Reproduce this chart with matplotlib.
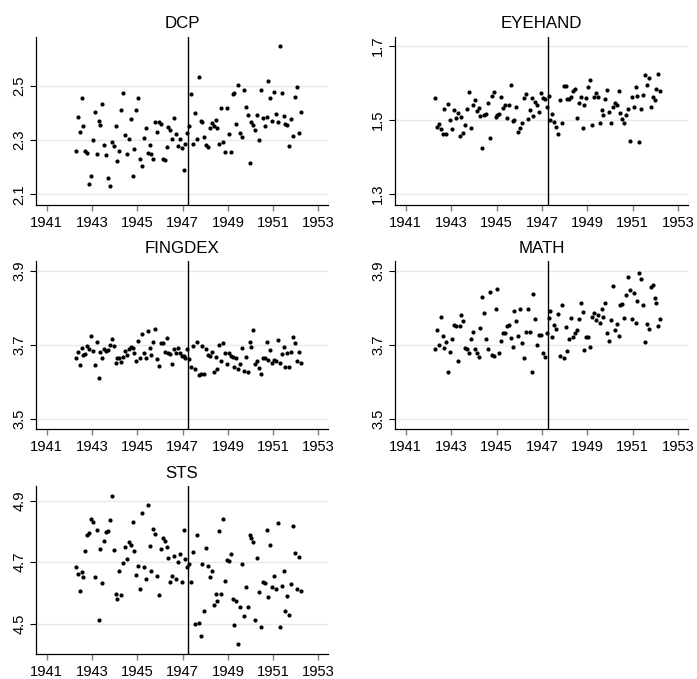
import matplotlib
matplotlib.use("Agg")
import matplotlib.pyplot as plt
import numpy as np
import pandas as pd

plt.rcParams["font.family"] = ["Liberation Sans", "DejaVu Sans"]

# Monthly observations, April 1942 - March 1952
months = pd.period_range("1942-04", "1952-03", freq="M")
cutoff_year = 1947.25

dcp = [2.258, 2.383, 2.329, 2.453, 2.353, 2.258, 2.253, 2.137, 2.169, 2.301,
       2.404, 2.250, 2.370, 2.355, 2.434, 2.282, 2.244, 2.160, 2.132, 2.293,
       2.277, 2.353, 2.221, 2.258, 2.412, 2.474, 2.317, 2.250, 2.304, 2.377,
       2.169, 2.268, 2.412, 2.455, 2.231, 2.206, 2.309, 2.344, 2.252, 2.282,
       2.248, 2.231, 2.367, 2.329, 2.367, 2.358, 2.229, 2.228, 2.274, 2.349,
       2.336, 2.305, 2.380, 2.323, 2.277, 2.305, 2.271, 2.190, 2.287, 2.325,
       2.350, 2.471, 2.284, 2.398, 2.302, 2.533, 2.369, 2.367, 2.311, 2.283,
       2.275, 2.345, 2.361, 2.352, 2.375, 2.345, 2.287, 2.419, 2.291, 2.255,
       2.418, 2.323, 2.255, 2.471, 2.474, 2.360, 2.501, 2.326, 2.312, 2.484,
       2.421, 2.392, 2.215, 2.365, 2.356, 2.337, 2.393, 2.301, 2.485, 2.382,
       2.352, 2.386, 2.518, 2.455, 2.371, 2.478, 2.397, 2.367, 2.646, 2.472,
       2.388, 2.360, 2.354, 2.277, 2.379, 2.316, 2.460, 2.494, 2.327, 2.402]

eyehand = [1.560, 1.481, 1.490, 1.476, 1.462, 1.531, 1.462, 1.544, 1.499, 1.476,
           1.526, 1.507, 1.519, 1.458, 1.509, 1.464, 1.487, 1.531, 1.577, 1.480,
           1.540, 1.553, 1.524, 1.534, 1.512, 1.426, 1.514, 1.517, 1.547, 1.451,
           1.565, 1.577, 1.509, 1.513, 1.517, 1.561, 1.533, 1.541, 1.505, 1.540,
           1.596, 1.498, 1.500, 1.536, 1.468, 1.480, 1.491, 1.560, 1.571, 1.504,
           1.527, 1.560, 1.511, 1.549, 1.541, 1.522, 1.574, 1.560, 1.556, 1.535,
           1.565, 1.500, 1.516, 1.496, 1.481, 1.462, 1.554, 1.491, 1.593, 1.592,
           1.558, 1.558, 1.562, 1.578, 1.585, 1.507, 1.546, 1.562, 1.479, 1.542,
           1.560, 1.589, 1.607, 1.486, 1.562, 1.573, 1.562, 1.491, 1.526, 1.515,
           1.558, 1.582, 1.521, 1.491, 1.535, 1.547, 1.542, 1.579, 1.520, 1.502,
           1.491, 1.515, 1.531, 1.444, 1.562, 1.535, 1.588, 1.565, 1.441, 1.531,
           1.569, 1.623, 1.594, 1.613, 1.536, 1.562, 1.553, 1.585, 1.624, 1.578]

fingdex = [3.666, 3.682, 3.647, 3.692, 3.673, 3.676, 3.698, 3.689, 3.724, 3.685,
           3.647, 3.708, 3.612, 3.682, 3.665, 3.689, 3.683, 3.687, 3.701, 3.717,
           3.697, 3.651, 3.665, 3.664, 3.654, 3.669, 3.685, 3.674, 3.690, 3.695,
           3.691, 3.680, 3.658, 3.710, 3.666, 3.730, 3.678, 3.664, 3.738, 3.693,
           3.674, 3.709, 3.743, 3.662, 3.645, 3.705, 3.705, 3.682, 3.720, 3.678,
           3.676, 3.650, 3.689, 3.678, 3.692, 3.678, 3.672, 3.671, 3.666, 3.689,
           3.663, 3.642, 3.698, 3.637, 3.709, 3.620, 3.621, 3.697, 3.623, 3.689,
           3.673, 3.671, 3.682, 3.628, 3.668, 3.636, 3.700, 3.657, 3.707, 3.680,
           3.649, 3.678, 3.671, 3.669, 3.642, 3.664, 3.637, 3.648, 3.691, 3.631,
           3.669, 3.627, 3.709, 3.696, 3.742, 3.648, 3.658, 3.638, 3.623, 3.664,
           3.664, 3.708, 3.660, 3.687, 3.653, 3.660, 3.656, 3.715, 3.651, 3.675,
           3.696, 3.640, 3.680, 3.640, 3.682, 3.721, 3.707, 3.658, 3.682, 3.653]

math_scores = [3.690, 3.740, 3.700, 3.777, 3.726, 3.691, 3.708, 3.627, 3.682, 3.716,
               3.754, 3.752, 3.656, 3.752, 3.780, 3.765, 3.691, 3.689, 3.678, 3.716,
               3.735, 3.689, 3.680, 3.669, 3.745, 3.831, 3.786, 3.716, 3.689, 3.843,
               3.674, 3.672, 3.798, 3.852, 3.680, 3.711, 3.732, 3.734, 3.752, 3.755,
               3.718, 3.696, 3.793, 3.766, 3.725, 3.798, 3.705, 3.666, 3.736, 3.798,
               3.736, 3.628, 3.838, 3.771, 3.700, 3.727, 3.727, 3.679, 3.669, 3.734,
               3.773, 3.791, 3.723, 3.754, 3.744, 3.785, 3.671, 3.807, 3.666, 3.749,
               3.684, 3.717, 3.773, 3.721, 3.732, 3.741, 3.771, 3.815, 3.789, 3.686,
               3.723, 3.723, 3.694, 3.777, 3.788, 3.769, 3.782, 3.761, 3.797, 3.776,
               3.813, 3.732, 3.711, 3.769, 3.859, 3.741, 3.758, 3.725, 3.809, 3.811,
               3.773, 3.834, 3.885, 3.850, 3.771, 3.840, 3.759, 3.820, 3.895, 3.879,
               3.807, 3.709, 3.758, 3.743, 3.856, 3.863, 3.827, 3.815, 3.753, 3.771]

sts = [4.683, 4.662, 4.607, 4.669, 4.653, 4.736, 4.787, 4.794, 4.841, 4.830,
       4.651, 4.806, 4.512, 4.743, 4.631, 4.770, 4.798, 4.802, 4.836, 4.917,
       4.740, 4.596, 4.581, 4.671, 4.593, 4.697, 4.751, 4.711, 4.766, 4.756,
       4.832, 4.736, 4.658, 4.688, 4.612, 4.861, 4.683, 4.645, 4.887, 4.753,
       4.671, 4.807, 4.791, 4.655, 4.592, 4.742, 4.779, 4.769, 4.748, 4.712,
       4.636, 4.655, 4.721, 4.646, 4.701, 4.728, 4.636, 4.805, 4.709, 4.684,
       4.693, 4.634, 4.734, 4.498, 4.789, 4.501, 4.459, 4.695, 4.542, 4.747,
       4.688, 4.651, 4.671, 4.562, 4.595, 4.575, 4.802, 4.596, 4.839, 4.639,
       4.707, 4.703, 4.728, 4.581, 4.496, 4.574, 4.435, 4.555, 4.693, 4.526,
       4.618, 4.554, 4.788, 4.778, 4.765, 4.511, 4.714, 4.603, 4.489, 4.634,
       4.633, 4.804, 4.588, 4.757, 4.620, 4.656, 4.612, 4.828, 4.489, 4.621,
       4.672, 4.540, 4.591, 4.527, 4.629, 4.817, 4.731, 4.614, 4.717, 4.605]

titles = ["DCP", "EYEHAND", "FINGDEX", "MATH", "STS"]
series = [dcp, eyehand, fingdex, math_scores, sts]
y_ticks = [[2.1, 2.3, 2.5], [1.3, 1.5, 1.7], [3.5, 3.7, 3.9], [3.5, 3.7, 3.9], [4.5, 4.7, 4.9]]
y_limits = [(2.061, 2.68), (1.271, 1.725), (3.473, 3.927), (3.473, 3.927), (4.401, 4.948)]
x_ticks = [1941, 1943, 1945, 1947, 1949, 1951, 1953]

x_dates = months.year + (months.month - 0.5) / 12.0

W, H = 697, 679
fig = plt.figure(figsize=(W / 100, H / 100), dpi=100)

# panel boxes in pixels: (left, top, right, bottom)
col_lr = [(36, 328), (395, 687.7)]
row_tb = [(36.7, 205), (261, 429.3), (486, 654)]

for i, (title, vals) in enumerate(zip(titles, series)):
    r, c = divmod(i, 2)
    l, rgt = col_lr[c]
    t, b = row_tb[r]
    ax = fig.add_axes([l / W, 1 - b / H, (rgt - l) / W, (b - t) / H])
    ax.set_xlim(1940.53, 1953.42)
    ax.set_ylim(*y_limits[i])
    for yv in y_ticks[i]:
        ax.axhline(yv, color="#e3ecec", lw=1.0, zorder=0)
    ax.axvline(cutoff_year, color="black", lw=1.0, zorder=2)
    ax.scatter(x_dates, vals, s=9, color="black", linewidths=0, zorder=3)

    ax.set_xticks(x_ticks)
    ax.set_xticklabels([str(v) for v in x_ticks])
    ax.set_yticks(y_ticks[i])
    ax.set_yticklabels([f"{v:.1f}" for v in y_ticks[i]], rotation=90, va="center")
    ax.tick_params(axis="x", length=4.3, width=1.0, color="#7f7f7f", pad=3.5,
                   labelsize=10.6, labelcolor="black")
    ax.tick_params(axis="y", length=4.0, width=0.8, color="black", pad=3,
                   labelsize=10.6, labelcolor="black")
    for s in ["top", "right"]:
        ax.spines[s].set_visible(False)
    for s in ["left", "bottom"]:
        ax.spines[s].set_linewidth(0.9)
        ax.spines[s].set_color("black")
    ax.set_title(title, fontsize=12.2, pad=6)

fig.savefig("out.png", dpi=100)
